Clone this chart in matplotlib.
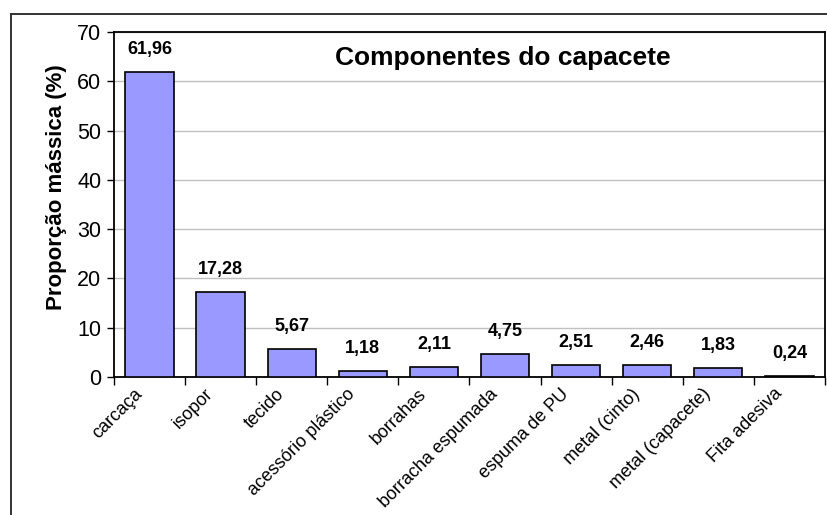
import matplotlib.pyplot as plt
import matplotlib.lines as mlines
import matplotlib.transforms as mtransforms
import numpy as np

plt.rcParams['font.family'] = ['Liberation Sans', 'DejaVu Sans']

# mass share of each helmet component (%)
componentes = ['carcaça', 'isopor', 'tecido', 'acessório plástico', 'borrahas',
               'borracha espumada', 'espuma de PU', 'metal (cinto)',
               'metal (capacete)', 'Fita adesiva']
proporcao = [61.96, 17.28, 5.67, 1.18, 2.11, 4.75, 2.51, 2.46, 1.83, 0.24]
rotulos = ['61,96', '17,28', '5,67', '1,18', '2,11', '4,75', '2,51', '2,46', '1,83', '0,24']
y_ticks = [0, 10, 20, 30, 40, 50, 60, 70]

fig = plt.figure(figsize=(8.27, 5.15), dpi=100)
ax = fig.add_axes([0.1378, 0.268, 0.8597, 0.670])

x = np.arange(len(componentes))
bars = ax.bar(x, proporcao, width=0.68, color='#9999FF', edgecolor='black',
              linewidth=1.2, zorder=3)

for b, txt in zip(bars, rotulos):
    ax.annotate(txt, (b.get_x() + b.get_width() / 2, b.get_height()),
                xytext=(0, 16), textcoords='offset points', ha='center',
                va='center', fontsize=13, fontweight='bold')

ax.set_xlim(-0.5, len(componentes) - 0.5)
ax.set_ylim(0, 70)
ax.set_yticks(y_ticks)
ax.tick_params(axis='y', labelsize=15.5, direction='out', length=5, width=1, pad=4)
ax.yaxis.grid(True, color='#C0C0C0', linewidth=1, zorder=0)

# ticks sit between categories, labels sit under each bar
ax.set_xticks(np.arange(len(componentes) + 1) - 0.5)
ax.set_xticklabels([])
ax.set_xticks(x, minor=True)
ax.set_xticklabels(componentes, minor=True, rotation=45, ha='right',
                   rotation_mode='anchor', fontsize=13)
ax.tick_params(axis='x', which='major', direction='out', length=6, width=1)
ax.tick_params(axis='x', which='minor', length=0, pad=6)
shift = mtransforms.ScaledTranslation(-16 / 100, 0, fig.dpi_scale_trans)
for lbl in ax.get_xticklabels(minor=True):
    lbl.set_transform(lbl.get_transform() + shift)

for s in ax.spines.values():
    s.set_linewidth(1.3)
    s.set_color('black')

ax.set_ylabel('Proporção mássica (%)', fontsize=16, fontweight='bold')
ax.yaxis.set_label_coords(-0.066, 0.55)
ax.text(0.547, 0.925, 'Componentes do capacete', transform=ax.transAxes,
        ha='center', va='center', fontsize=19, fontweight='bold')

# frame around the chart area
fig.add_artist(mlines.Line2D([0.0127, 1.0], [0.9728, 0.9728], color='#333333',
                             linewidth=1.4, transform=fig.transFigure))
fig.add_artist(mlines.Line2D([0.0127, 0.0127], [0.0, 0.9728], color='#333333',
                             linewidth=1.4, transform=fig.transFigure))

plt.savefig('out.png', dpi=100)
